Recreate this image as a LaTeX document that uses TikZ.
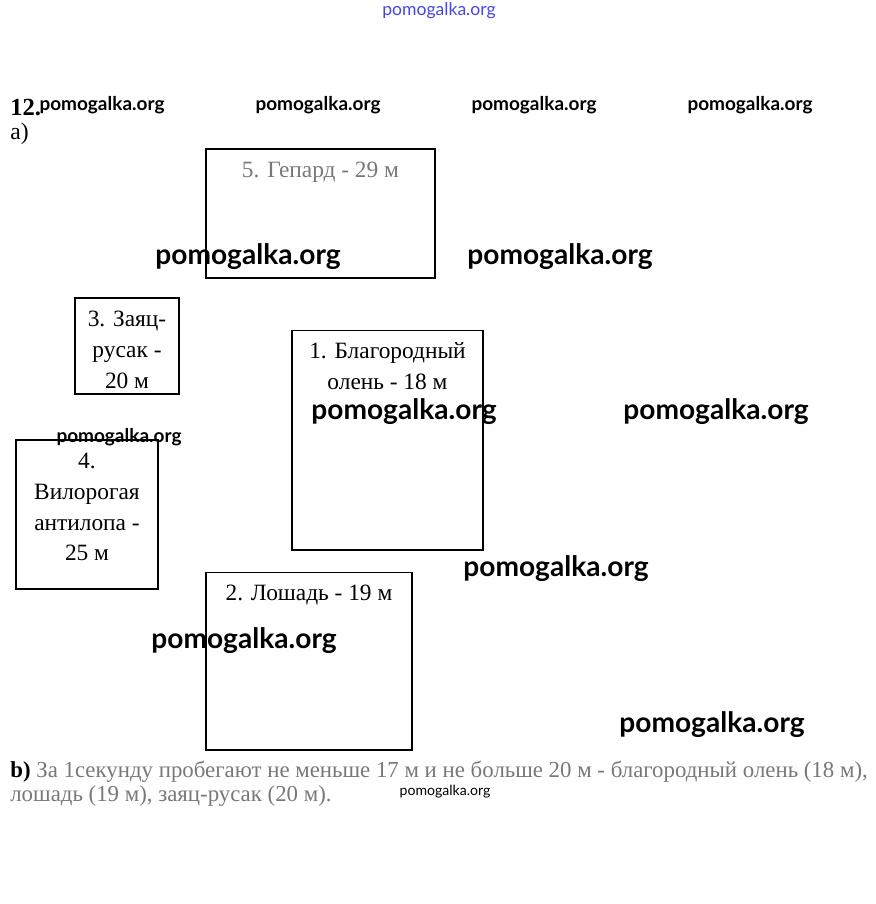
\documentclass[tikz,border=0pt]{standalone}
\usepackage{fontspec}
\setmainfont{Liberation Serif}
\newfontfamily\wmfont{Lato}
\usetikzlibrary{positioning}
\definecolor{fadedgray}{RGB}{120,120,120}
\definecolor{wmblue}{RGB}{70,70,225}
\tikzstyle{animal_box} = [rectangle, draw=black, line width=0.6pt, inner sep=0pt]
\tikzstyle{box_text} = [font=\fontsize{13.3}{17.6}\selectfont, align=center, inner sep=0pt]
\tikzstyle{watermark} = [font=\wmfont\bfseries\fontsize{16}{16}\selectfont, inner sep=0pt]
\tikzstyle{watermark_small} = [font=\wmfont\bfseries\fontsize{10.8}{11}\selectfont, inner sep=0pt]

\begin{document}
\begin{tikzpicture}[x=0.02cm, y=-0.02cm]
\useasboundingbox (0,0) rectangle (876,904);

% Heading
\node[anchor=west, inner sep=0pt, font=\bfseries\fontsize{14}{14}\selectfont] (task_no) at (10,108) {12.};
\node[anchor=west, inner sep=0pt, font=\fontsize{13.5}{13.5}\selectfont] (part_a) at (10,134) {а)};

% Boxes
\node[animal_box, minimum width=4.58cm, minimum height=2.58cm] (gepard) at (320.5,213.5) {};
\node[animal_box, minimum width=2.08cm, minimum height=1.92cm] (zayac) at (127,346) {};
\node[animal_box, minimum width=3.82cm, minimum height=4.40cm] (olen) at (387.5,440) {};
\node[animal_box, minimum width=2.84cm, minimum height=2.98cm] (antilopa) at (87,514.5) {};
\node[animal_box, minimum width=4.12cm, minimum height=3.56cm] (loshad) at (309,661) {};

% Box labels
\node[box_text, text=fadedgray, below=0.26cm of gepard.north] (gepard_t) {5. Гепард - 29 м};
\node[box_text, below=0.26cm of zayac.north] (zayac_t) {3. Заяц-\\русак -\\20 м};
\node[box_text, below=0.26cm of olen.north] (olen_t) {1. Благородный\\олень - 18 м};
\node[box_text, below=0.26cm of antilopa.north] (antilopa_t) {4.\\Вилорогая\\антилопа -\\25 м};
\node[box_text, below=0.26cm of loshad.north] (loshad_t) {2. Лошадь - 19 м};

% Answer b)
\node[anchor=north west, align=left, inner sep=0pt, font=\fontsize{13}{13.6}\selectfont] (answer_b) at (10,761) {\textbf{b)} \textcolor{fadedgray}{За 1секунду пробегают не меньше 17 м и не больше 20 м - благородный олень (18 м),}\\\textcolor{fadedgray}{лошадь (19 м), заяц-русак (20 м).}};

% Watermarks
\node[font=\wmfont\fontsize{10}{10}\selectfont, text=wmblue, inner sep=0pt] (wm_top) at (439,11) {pomogalka.org};
\foreach \wx [count=\i] in {102,318,534,750}
  \node[watermark_small] (wm_row\i) at (\wx,105) {pomogalka.org};
\node[watermark_small] (wm_left) at (119,437) {pomogalka.org};
\node[watermark_small, font=\wmfont\fontsize{8}{8}\selectfont] (wm_bottom) at (445,792) {pomogalka.org};
\node[watermark] (wm1) at (248,257) {pomogalka.org};
\node[watermark] (wm2) at (560,257) {pomogalka.org};
\node[watermark] (wm3) at (404,412) {pomogalka.org};
\node[watermark] (wm4) at (716,412) {pomogalka.org};
\node[watermark] (wm5) at (556,569) {pomogalka.org};
\node[watermark] (wm6) at (244,641) {pomogalka.org};
\node[watermark] (wm7) at (712,725) {pomogalka.org};

\end{tikzpicture}
\end{document}
